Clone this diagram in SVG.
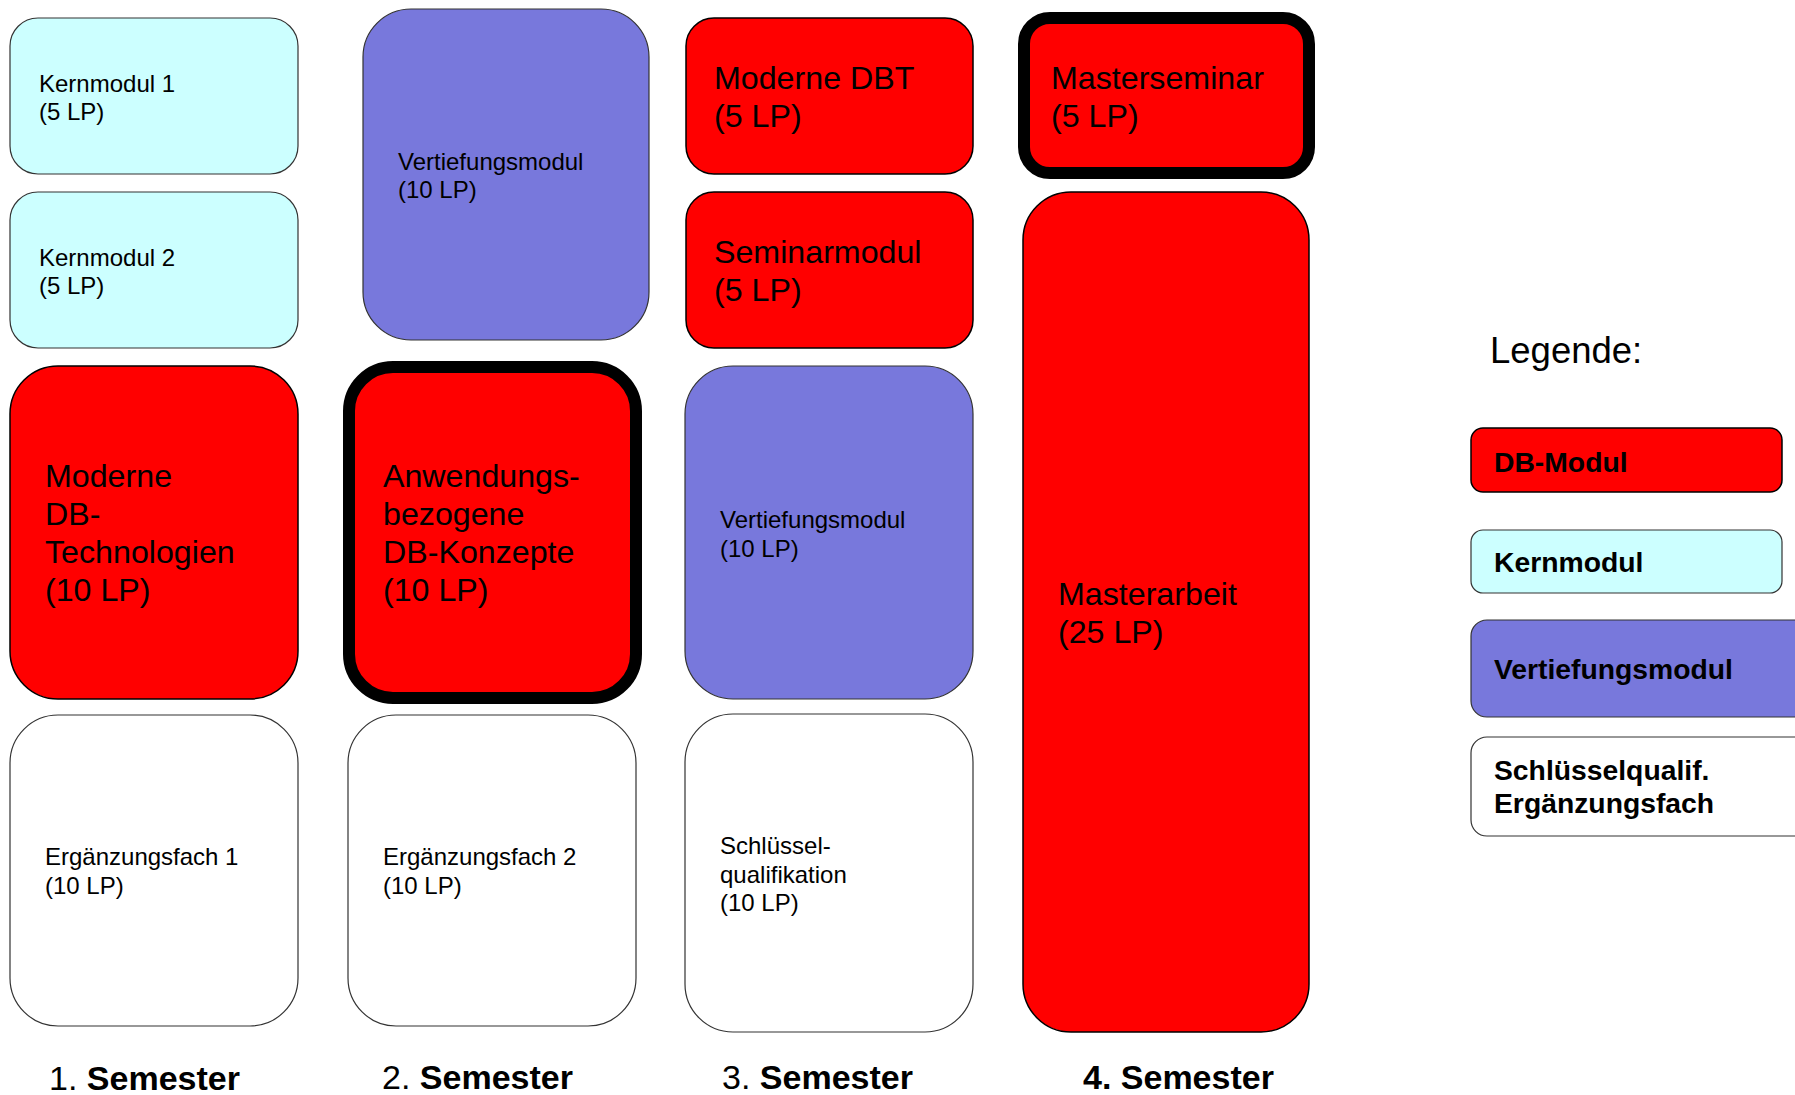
<svg xmlns="http://www.w3.org/2000/svg" width="1795" height="1095" viewBox="0 0 1795 1095">
<style>
text{font-family:"Liberation Sans",Arial,sans-serif;fill:#000}
.sm{font-size:24px}
.lg{font-size:32.2px}
.sem{font-size:34px}
.b{font-weight:bold}
.leg{font-size:28.3px;font-weight:bold}
.red{fill:#FF0000;stroke:#000;stroke-width:1.5}
.cyan{fill:#CCFFFF;stroke:#333;stroke-width:1.2}
.vio{fill:#7878DC;stroke:#333;stroke-width:1.2}
.wht{fill:#FFFFFF;stroke:#333;stroke-width:1.2}
.thick{stroke:#000;stroke-width:12}
</style>
<rect width="1795" height="1095" fill="#fff"/>
<g id="connectors"/>
<g id="kernmodul1"><rect class="cyan" x="10" y="18" width="288" height="156" rx="28"/><text class="sm" x="39" y="92">Kernmodul 1</text><text class="sm" x="39" y="120">(5 LP)</text></g>
<g id="kernmodul2"><rect class="cyan" x="10" y="192" width="288" height="156" rx="28"/><text class="sm" x="39" y="266">Kernmodul 2</text><text class="sm" x="39" y="294">(5 LP)</text></g>
<g id="moderne-db-technologien"><rect class="red" x="10" y="366" width="288" height="333" rx="48"/><text class="lg" x="45" y="487">Moderne</text><text class="lg" x="45" y="525">DB-</text><text class="lg" x="45" y="563">Technologien</text><text class="lg" x="45" y="601">(10 LP)</text></g>
<g id="ergaenzungsfach1"><rect class="wht" x="10" y="715" width="288" height="311" rx="48"/><text class="sm" x="45" y="865">Ergänzungsfach 1</text><text class="sm" x="45" y="894">(10 LP)</text></g>
<g id="vertiefungsmodul1"><rect class="vio" x="363" y="9" width="286" height="331" rx="48"/><text class="sm" x="398" y="170">Vertiefungsmodul</text><text class="sm" x="398" y="198">(10 LP)</text></g>
<g id="anwendungsbezogene"><rect class="red thick" x="349" y="367" width="287" height="331" rx="44"/><text class="lg" x="383" y="487">Anwendungs-</text><text class="lg" x="383" y="525">bezogene</text><text class="lg" x="383" y="563">DB-Konzepte</text><text class="lg" x="383" y="601">(10 LP)</text></g>
<g id="ergaenzungsfach2"><rect class="wht" x="348" y="715" width="288" height="311" rx="48"/><text class="sm" x="383" y="865">Ergänzungsfach 2</text><text class="sm" x="383" y="894">(10 LP)</text></g>
<g id="moderne-dbt"><rect class="red" x="686" y="18" width="287" height="156" rx="28"/><text class="lg" x="714" y="89">Moderne DBT</text><text class="lg" x="714" y="127">(5 LP)</text></g>
<g id="seminarmodul"><rect class="red" x="686" y="192" width="287" height="156" rx="28"/><text class="lg" x="714" y="263">Seminarmodul</text><text class="lg" x="714" y="301">(5 LP)</text></g>
<g id="vertiefungsmodul3"><rect class="vio" x="685" y="366" width="288" height="333" rx="48"/><text class="sm" x="720" y="528">Vertiefungsmodul</text><text class="sm" x="720" y="557">(10 LP)</text></g>
<g id="schluesselqualifikation"><rect class="wht" x="685" y="714" width="288" height="318" rx="48"/><text class="sm" x="720" y="854">Schlüssel-</text><text class="sm" x="720" y="883">qualifikation</text><text class="sm" x="720" y="911">(10 LP)</text></g>
<g id="masterseminar"><rect class="red thick" x="1024" y="18" width="285" height="155" rx="26"/><text class="lg" x="1051" y="89">Masterseminar</text><text class="lg" x="1051" y="127">(5 LP)</text></g>
<g id="masterarbeit"><rect class="red" x="1023" y="192" width="286" height="840" rx="48"/><text class="lg" x="1058" y="605">Masterarbeit</text><text class="lg" x="1058" y="643">(25 LP)</text></g>
<g id="semester-labels">
<text class="sem" x="49" y="1090">1. <tspan class="b">Semester</tspan></text>
<text class="sem" x="382" y="1089">2. <tspan class="b">Semester</tspan></text>
<text class="sem" x="722" y="1089">3. <tspan class="b">Semester</tspan></text>
<text class="sem b" x="1083" y="1089">4. Semester</text>
</g>
<g id="legend">
<text x="1490" y="363" style="font-size:36.5px">Legende:</text>
<g id="legend-db"><rect class="red" x="1471" y="428" width="311" height="64" rx="12"/><text class="leg" x="1494" y="472">DB-Modul</text></g>
<g id="legend-kern"><rect class="cyan" x="1471" y="530" width="311" height="63" rx="12"/><text class="leg" x="1494" y="572">Kernmodul</text></g>
<g id="legend-vert"><rect class="vio" x="1471" y="620" width="340" height="97" rx="16"/><text class="leg" x="1494" y="679">Vertiefungsmodul</text></g>
<g id="legend-schl"><rect class="wht" x="1471" y="737" width="340" height="99" rx="16"/><text class="leg" x="1494" y="780">Schlüsselqualif.</text><text class="leg" x="1494" y="813">Ergänzungsfach</text></g>
</g>
</svg>
